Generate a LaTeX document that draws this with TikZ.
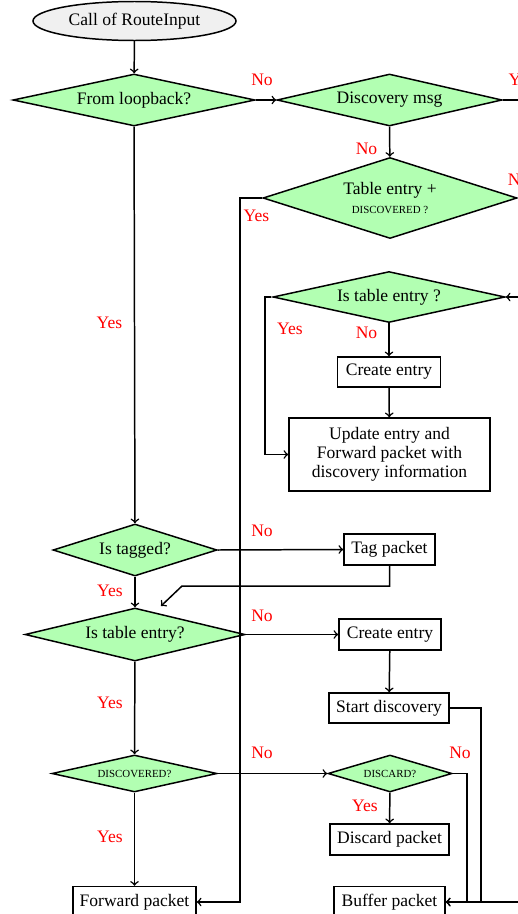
\documentclass[tikz,border=0pt]{standalone}
\usepackage{fontspec}
\setmainfont{Liberation Serif}
\usetikzlibrary{shapes.geometric}

\tikzset{
  wh/.style 2 args={minimum width=#1*0.57pt, minimum height=#2*0.57pt},
  dwh/.style n args={3}{minimum width=#1*0.57pt, minimum height=#2*0.57pt, aspect=#3},
  base/.style={draw, line width=0.85pt, inner sep=0pt, font=\fontsize{10}{10.8}\selectfont, align=center},
  start/.style={base, ellipse, fill=gray!12},
  decision/.style={base, diamond, fill=green!30},
  stepbox/.style={base, rectangle, fill=white},
  arr/.style={->, line width=0.85pt},
  ln/.style={line width=0.85pt},
  lbl/.style={text=red, font=\fontsize{10}{12}\selectfont, inner sep=0pt},
}
\newcommand{\capsmall}[1]{{\fontsize{6.2}{7}\selectfont #1}}

\begin{document}
\begin{tikzpicture}[x=0.57pt, y=-0.57pt]
  \useasboundingbox (0,0) rectangle (518,914);
  \clip (0,0) rectangle (518,914);

  % nodes
  \node[start, wh={203}{39}] (call) at (134.5,21) {Call of RouteInput};
  \node[decision, dwh={242}{52}{4.654}] (loop) at (134,100) {From loopback?};
  \node[decision, dwh={225}{52}{4.327}] (disc) at (389.5,100) {Discovery msg};
  \node[decision, dwh={254}{81}{3.136}] (tdisc) at (390,198) {Table entry +\\[0.5pt]\capsmall{DISCOVERED ?}};
  \node[decision, dwh={232}{51}{4.549}] (isent) at (389,297) {Is table entry ?};
  \node[stepbox, wh={103}{30}] (crA) at (389,372) {Create entry};
  \node[stepbox, wh={201}{73}] (upd) at (389.5,454.5) {Update entry and\\Forward packet with\\discovery information};
  \node[decision, dwh={164}{52}{3.154}] (tagq) at (135,550) {Is tagged?};
  \node[stepbox, wh={91}{31}] (tag) at (389.5,549.5) {Tag packet};
  \node[decision, dwh={220}{53}{4.151}] (tblq) at (135,634.5) {Is table entry?};
  \node[stepbox, wh={102}{31}] (crB) at (390,634.5) {Create entry};
  \node[stepbox, wh={120}{30}] (sdisc) at (389,708) {Start discovery};
  \node[decision, dwh={165}{37}{4.459}] (dq) at (134.5,773.5) {\capsmall{DISCOVERED?}};
  \node[decision, dwh={124}{37}{3.351}] (dcq) at (390,773.5) {\capsmall{DISCARD?}};
  \node[stepbox, wh={119}{31}] (dpk) at (389.5,839.5) {Discard packet};
  \node[stepbox, wh={123}{31}] (fwd) at (134.5,902) {Forward packet};
  \node[stepbox, wh={111}{31}] (buf) at (389.5,902) {Buffer packet};

  % helper points for bends and off-page runs
  \coordinate (tagbend) at (182,586);
  \coordinate (tagtip) at (161,606);
  \coordinate (farA) at (540,100);
  \coordinate (farB) at (540,198);
  \coordinate (farC) at (540,297);
  \coordinate (farD) at (540,902);

  % connectors
  \draw[arr] (call) -- (loop);
  \draw[arr] (loop.east) -- (disc.west);
  \draw[ln] (disc.east) -- (farA);
  \draw[arr] (disc) -- (tdisc);
  \draw[ln] (tdisc.east) -- (farB);
  \draw[arr] (tdisc.west) -- (240,198) -- (240,902) -- (fwd.east);
  \draw[arr] (farC) -- (isent.east);
  \draw[arr] (isent.west) ++(-1,0) -- (265,297) -- (265,454.5) -- (upd.west);
  \draw[arr] (isent) -- (crA);
  \draw[arr] (crA) -- (upd);

  \draw[arr] (loop) -- (tagq);
  \draw[arr] (tagq.east) -- (tag.west);
  \draw[arr] (tag.south) -- (tag.south |- tagbend) -- (tagbend) -- (tagtip);
  \draw[arr] (tagq) -- (tblq);
  \draw[arr] (tblq.east) -- (crB.west);
  \draw[arr] (crB) -- (sdisc);
  \draw[arr] (tblq) -- (dq);
  \draw[arr] (dq.east) -- (dcq.west);
  \draw[arr] (dcq) -- (dpk);
  \draw[arr] (dq) -- (fwd);
  \draw[arr] (sdisc.east) -- (481,708) -- (481,902) -- (buf.east);
  \draw[arr] (dcq.east) -- (467,773.5) -- (467,902) -- (buf.east);
  \draw[arr] (farD) -- (buf.east);

  % branch labels
  \node[lbl] (l1) at (262,80) {No};
  \node[lbl] (l2) at (521.5,80) {Yes};
  \node[lbl] (l3) at (366.5,149) {No};
  \node[lbl] (l4) at (518.5,180) {No};
  \node[lbl] (l5) at (256.5,216) {Yes};
  \node[lbl] (l6) at (290,329) {Yes};
  \node[lbl] (l7) at (366.5,333) {No};
  \node[lbl] (l8) at (109.5,323) {Yes};
  \node[lbl] (l9) at (262,531) {No};
  \node[lbl] (l10) at (110,591) {Yes};
  \node[lbl] (l11) at (262,616) {No};
  \node[lbl] (l12) at (110,703) {Yes};
  \node[lbl] (l13) at (262,753) {No};
  \node[lbl] (l14) at (460,753) {No};
  \node[lbl] (l15) at (365,806) {Yes};
  \node[lbl] (l16) at (110,837) {Yes};
\end{tikzpicture}
\end{document}
